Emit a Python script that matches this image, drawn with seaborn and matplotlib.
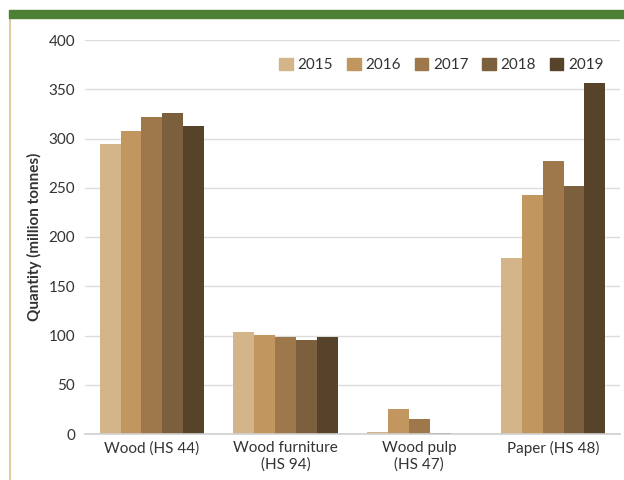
import pandas as pd
import matplotlib.pyplot as plt
import matplotlib.patches as mpatches
import matplotlib.lines as mlines
import seaborn as sns

# data (million tonnes)
categories = ["Wood (HS 44)", "Wood furniture\n(HS 94)", "Wood pulp\n(HS 47)", "Paper (HS 48)"]
years = ["2015", "2016", "2017", "2018", "2019"]
q2015 = [294, 104, 2.5, 179]
q2016 = [308, 101, 25.5, 243]
q2017 = [322, 98.5, 15, 277]
q2018 = [326, 95.5, 0.6, 252]
q2019 = [313, 98.5, 0, 356]
colors = ["#d4b58a", "#c1965f", "#9e784a", "#7c5f3d", "#57432a"]

df = pd.DataFrame({
    "Category": categories * 5,
    "Year": [y for y in years for _ in categories],
    "Quantity": q2015 + q2016 + q2017 + q2018 + q2019,
})

sns.set_style("white")
plt.rcParams["font.family"] = ["Lato", "DejaVu Sans"]

fig = plt.figure(figsize=(6.24, 4.8), dpi=100)
ax = fig.add_axes([85 / 624, 1 - 434 / 480, 535 / 624, 394 / 480])

sns.barplot(data=df, x="Category", y="Quantity", hue="Year",
            palette=colors, saturation=1, width=0.78, gap=0, linewidth=0, ax=ax)

ax.set_ylim(0, 400)
ax.set_xlim(-0.5, 3.5)
ax.set_yticks(range(0, 401, 50))
ax.yaxis.grid(True, color="#dcdcdc", linewidth=1)
ax.set_axisbelow(True)
for s in ["top", "right", "left"]:
    ax.spines[s].set_visible(False)
ax.spines["bottom"].set_color("#cfcfcf")
ax.spines["bottom"].set_linewidth(1.2)

ax.tick_params(axis="y", length=0, labelsize=11, labelcolor="#333333", pad=7)
ax.tick_params(axis="x", which="major", length=0, labelsize=11, labelcolor="#333333", pad=5)
ax.set_xticks([-0.5, 0.5, 1.5, 2.5, 3.5], minor=True)
ax.tick_params(axis="x", which="minor", length=5, color="#cfcfcf", width=1.2)

ax.set_xlabel("")
ax.set_ylabel("Quantity (million tonnes)", fontsize=11, fontweight="bold", color="#333333", labelpad=5)

handles = [mpatches.Patch(color=c, label=y) for c, y in zip(colors, years)]
ax.legend(handles=handles, ncol=5, frameon=False, loc="upper right",
          bbox_to_anchor=(0.995, 0.99), fontsize=11, handlelength=0.9, handleheight=0.9,
          handletextpad=0.3, columnspacing=0.9, labelcolor="#333333")

# green header strip and left rule
fig.patches.append(mpatches.Rectangle((9 / 624, 1 - 18 / 480), 1, 8 / 480,
                                      transform=fig.transFigure, color="#4b8035", zorder=5))
fig.lines.append(mlines.Line2D([10 / 624, 10 / 624], [0, 1 - 18 / 480],
                               transform=fig.transFigure, color="#dccf9f", linewidth=1.5))

fig.savefig("out.png", dpi=100)
